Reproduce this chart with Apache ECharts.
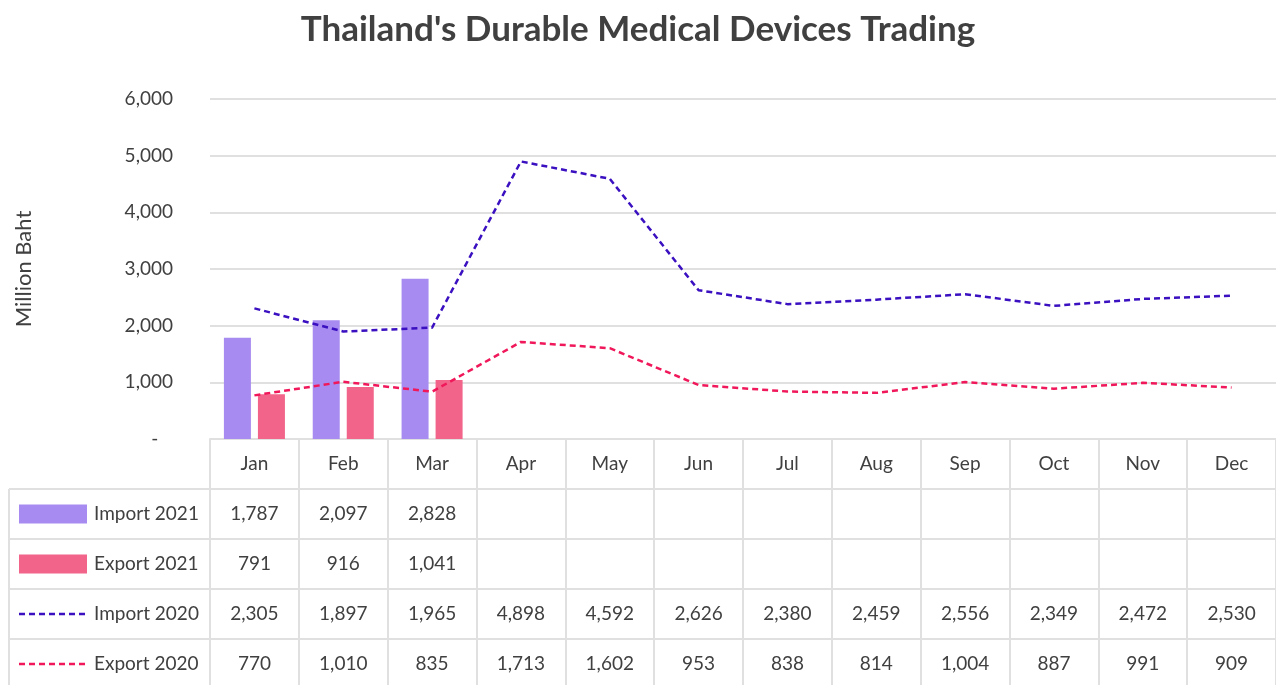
<!DOCTYPE html>
<html>
<head>
<meta charset="utf-8">
<script src="https://cdn.jsdelivr.net/npm/echarts@6/dist/echarts.min.js"></script>
<style>html,body{margin:0;padding:0;background:#fff;}#main{width:1276px;height:685px;}</style>
</head>
<body>
<div id="main"></div>
<script>
const months = ['Jan','Feb','Mar','Apr','May','Jun','Jul','Aug','Sep','Oct','Nov','Dec'];
const import2021 = [1787, 2097, 2828, null, null, null, null, null, null, null, null, null];
const export2021 = [791, 916, 1041, null, null, null, null, null, null, null, null, null];
const import2020 = [2305, 1897, 1965, 4898, 4592, 2626, 2380, 2459, 2556, 2349, 2472, 2530];
const export2020 = [770, 1010, 835, 1713, 1602, 953, 838, 814, 1004, 887, 991, 909];
const seriesNames = ['Import 2021', 'Export 2021', 'Import 2020', 'Export 2020'];
const yTicks = [0, 1000, 2000, 3000, 4000, 5000, 6000];

const FONT = 'Lato, "Noto Sans", sans-serif';
const TXT = '#404040';
const LINEC = '#e0e0e0';
const ROW = 50;
const COLORS = ['#A78BF0', '#F2648A', '#3A10C0', '#F0185A'];
const fmt = v => (v == null ? '' : v.toLocaleString('en-US'));

const rows = [import2021, export2021, import2020, export2020];
const tableAxes = rows.map((arr, i) => ({
  type: 'category',
  gridIndex: 0,
  position: 'bottom',
  offset: ROW * (i + 1),
  data: arr.map(fmt),
  axisLine: { show: true, lineStyle: { color: LINEC, width: 2 } },
  axisTick: { show: true, length: ROW, interval: 0, lineStyle: { color: LINEC, width: 2 } },
  axisLabel: { interval: 0, margin: 15, fontSize: 19, color: TXT, fontFamily: FONT },
  splitLine: { show: false }
}));

const gridTop = 99, gridBottomY = 439, gridLeft = 210;
const graphics = [];
for (let k = 1; k <= 4; k++) {
  graphics.push({ type: 'line', shape: { x1: 9, y1: gridBottomY + ROW * k, x2: gridLeft, y2: gridBottomY + ROW * k }, style: { stroke: LINEC, lineWidth: 2 }, silent: true });
}
graphics.push({ type: 'line', shape: { x1: 9, y1: gridBottomY + ROW, x2: 9, y2: 700 }, style: { stroke: LINEC, lineWidth: 2 }, silent: true });
seriesNames.forEach((name, i) => {
  const cy = gridBottomY + ROW * (i + 1) + ROW / 2;
  if (i < 2) {
    graphics.push({ type: 'rect', shape: { x: 19, y: cy - 9.5, width: 68, height: 19 }, style: { fill: COLORS[i] }, silent: true });
  } else {
    graphics.push({ type: 'line', shape: { x1: 19, y1: cy, x2: 87, y2: cy }, style: { stroke: COLORS[i], lineWidth: 2.5, lineDash: [6, 4] }, silent: true });
  }
  graphics.push({ type: 'text', x: 94, y: cy, style: { text: name, fontSize: 19, fill: TXT, fontFamily: FONT, textVerticalAlign: 'middle', verticalAlign: 'middle' }, silent: true });
});

const chart = echarts.init(document.getElementById('main'));
chart.setOption({
  backgroundColor: '#fff',
  animation: false,
  textStyle: { fontFamily: FONT },
  title: {
    text: "Thailand's Durable Medical Devices Trading",
    left: 'center',
    top: 7,
    textStyle: { fontSize: 35, fontWeight: 'bold', color: TXT, fontFamily: FONT }
  },
  grid: { left: gridLeft, right: -2, top: gridTop, bottom: 685 - gridBottomY, containLabel: false },
  xAxis: [{
    type: 'category',
    gridIndex: 0,
    position: 'bottom',
    data: months,
    axisLine: { show: true, lineStyle: { color: LINEC, width: 2 } },
    axisTick: { show: true, length: ROW, interval: 0, lineStyle: { color: LINEC, width: 2 } },
    axisLabel: { interval: 0, margin: 15, fontSize: 19, color: TXT, fontFamily: FONT },
    splitLine: { show: false }
  }].concat(tableAxes),
  yAxis: {
    type: 'value',
    min: yTicks[0],
    max: yTicks[yTicks.length - 1],
    interval: 1000,
    name: 'Million Baht',
    nameLocation: 'middle',
    nameRotate: 90,
    nameGap: 175,
    nameTextStyle: { fontSize: 22, color: TXT, fontFamily: FONT },
    axisLine: { show: false },
    axisTick: { show: false },
    axisLabel: { margin: 37, fontSize: 19, color: TXT, fontFamily: FONT,
      formatter: v => (v === 0 ? '-   ' : v.toLocaleString('en-US')) },
    splitLine: { show: true, lineStyle: { color: LINEC, width: 2 } }
  },
  graphic: graphics,
  series: [
    { name: seriesNames[0], type: 'bar', data: import2021, barWidth: 27, barGap: '26%', itemStyle: { color: COLORS[0] } },
    { name: seriesNames[1], type: 'bar', data: export2021, barWidth: 27, barGap: '26%', itemStyle: { color: COLORS[1] } },
    { name: seriesNames[2], type: 'line', data: import2020, symbol: 'none', lineStyle: { color: COLORS[2], width: 2.5, type: [6, 4] }, itemStyle: { color: COLORS[2] } },
    { name: seriesNames[3], type: 'line', data: export2020, symbol: 'none', lineStyle: { color: COLORS[3], width: 2.5, type: [6, 4] }, itemStyle: { color: COLORS[3] } }
  ]
});
</script>
</body>
</html>
